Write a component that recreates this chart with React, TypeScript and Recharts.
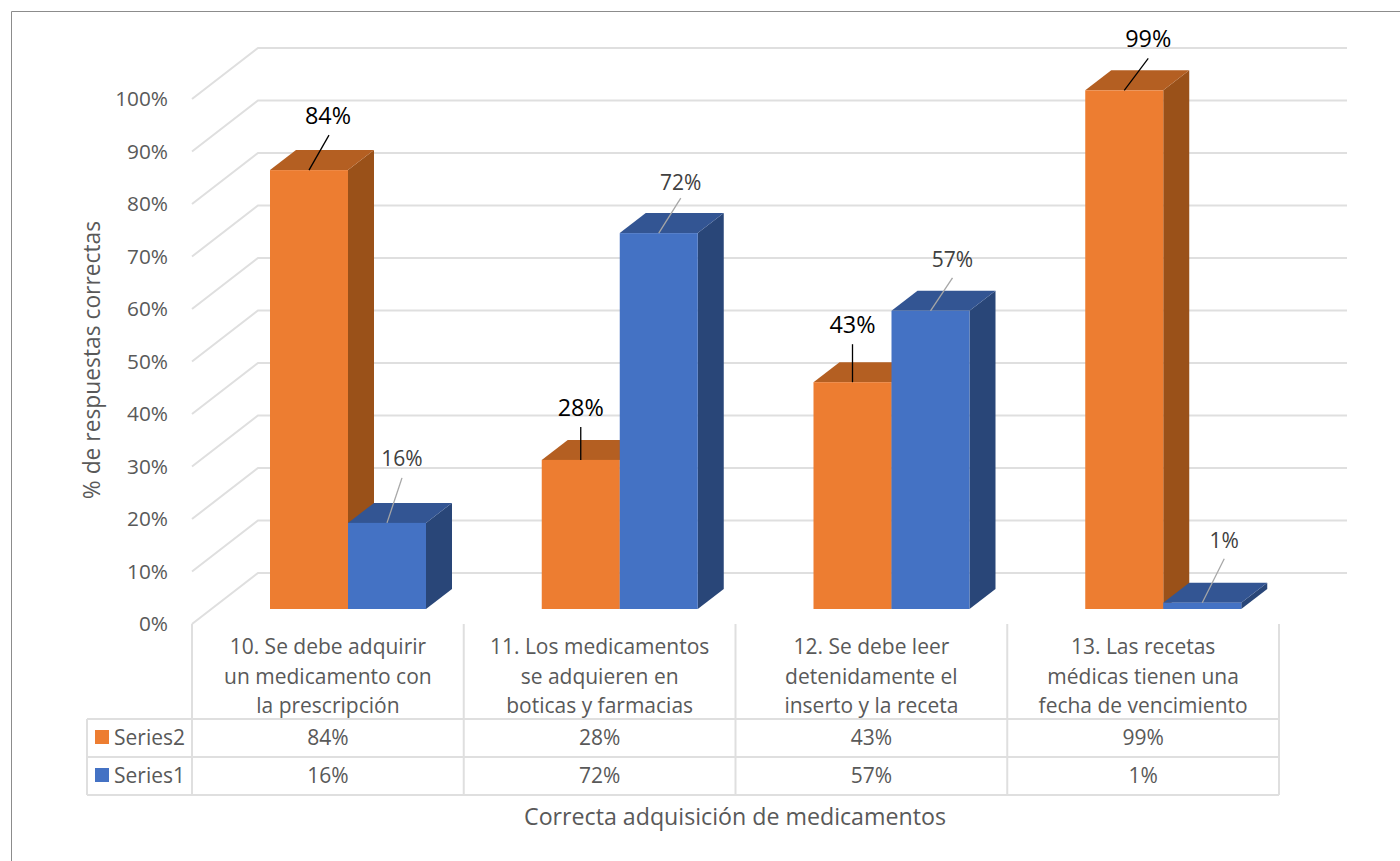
import React from 'react';
import { BarChart, Bar, XAxis, YAxis, CartesianGrid, LabelList, Customized } from 'recharts';

const categoryLines: string[][] = [
  ['10. Se debe adquirir', 'un medicamento con', 'la prescripción'],
  ['11. Los medicamentos', 'se adquieren en', 'boticas y farmacias'],
  ['12. Se debe leer', 'detenidamente el', 'inserto y la receta'],
  ['13. Las recetas', 'médicas tienen una', 'fecha de vencimiento'],
];
const series2Values = [0.836, 0.284, 0.432, 0.988];
const series1Values = [0.164, 0.716, 0.568, 0.012];
const yTicks = [0, 0.1, 0.2, 0.3, 0.4, 0.5, 0.6, 0.7, 0.8, 0.9, 1];
const xTitle = 'Correcta adquisición de medicamentos';
const yTitle = '% de respuestas correctas';

const tableData = categoryLines.map((lines, i) => ({
  name: lines.join(' '),
  series2: series2Values[i],
  series1: series1Values[i],
}));

const FONT = '"Open Sans", sans-serif';
const TEXT = '#595959';
const GRID = '#dfdfdf';
const W = 1400;
const H = 861;
const PLOT_L = 192;
const PLOT_R = 1279;
const PLOT_T = 99;
const PLOT_B = 624;
const DEPTH_X = 26;
const DEPTH_Y = 20;
const SHIFT_X = 20;
const SHIFT_Y = -15;
const BAND = (PLOT_R - PLOT_L) / 4;
const pct = (v: number) => `${Math.round(v * 100)}%`;

const Box3D = (colors: { front: string; side: string; top: string }) => (props: any) => {
  const x = props.x + SHIFT_X;
  const y = props.y + SHIFT_Y;
  const w = props.width;
  const h = props.height;
  return (
    <g>
      <polygon points={`${x + w},${y} ${x + w + DEPTH_X},${y - DEPTH_Y} ${x + w + DEPTH_X},${y + h - DEPTH_Y} ${x + w},${y + h}`} fill={colors.side} />
      <polygon points={`${x},${y} ${x + DEPTH_X},${y - DEPTH_Y} ${x + w + DEPTH_X},${y - DEPTH_Y} ${x + w},${y}`} fill={colors.top} />
      <rect x={x} y={y} width={w} height={h} fill={colors.front} />
    </g>
  );
};

const leaderS2 = [[20, -35, 19, -55], [0, -33, 0, -53], [0, -38, 0, -58], [24, -32, 24, -52]];
const leaderS1 = [[15, -45, 15, -65], [22, -35, 22, -51], [22, -33, 22, -52], [22, -44, 22, -63]];

const Callout = (leaders: number[][], color: string, lineColor: string, size: number) => (props: any) => {
  const { x, y, width, value, index } = props;
  const cx = x + SHIFT_X + width / 2;
  const cy = y + SHIFT_Y;
  const [lx, ly, tx, ty] = leaders[index];
  return (
    <g>
      <line x1={cx} y1={cy} x2={cx + lx} y2={cy + ly} stroke={lineColor} strokeWidth={1.3} />
      <text x={cx + tx} y={cy + ty} textAnchor="middle" dominantBaseline="central" fontFamily={FONT} fontSize={size} fill={color}>
        {pct(value)}
      </text>
    </g>
  );
};

const CategoryTick = (props: any) => {
  const lines = categoryLines[props.payload.index];
  return (
    <g>
      {lines.map((line, i) => (
        <text key={i} x={props.x} y={PLOT_B + 22 + i * 29.5} textAnchor="middle" dominantBaseline="central" fontFamily={FONT} fontSize={21} fill={TEXT}>
          {line}
        </text>
      ))}
    </g>
  );
};

const Frame = () => {
  const rows = [719, 757, 795];
  const cols = [0, 1, 2, 3, 4].map((i) => PLOT_L + i * BAND);
  const tableRows = [
    { name: 'Series2', color: '#ED7D31', values: series2Values, y: 737 },
    { name: 'Series1', color: '#4472C4', values: series1Values, y: 775 },
  ];
  return (
    <g>
      <line x1={11.5} y1={11.5} x2={W} y2={11.5} stroke="#8c8c8c" strokeWidth={1} />
      <line x1={11.5} y1={11.5} x2={11.5} y2={H} stroke="#8c8c8c" strokeWidth={1} />
      {rows.map((y) => (
        <line key={y} x1={87} y1={y} x2={PLOT_R} y2={y} stroke={GRID} strokeWidth={2} />
      ))}
      <line x1={87} y1={719} x2={87} y2={795} stroke={GRID} strokeWidth={2} />
      {cols.map((x) => (
        <line key={x} x1={x} y1={PLOT_B} x2={x} y2={795} stroke={GRID} strokeWidth={2} />
      ))}
      {tableRows.map((r) => (
        <g key={r.name}>
          <rect x={95} y={r.y - 7} width={14} height={14} fill={r.color} />
          <text x={114} y={r.y} dominantBaseline="central" fontFamily={FONT} fontSize={21} fill={TEXT}>{r.name}</text>
          {r.values.map((v, i) => (
            <text key={i} x={PLOT_L + (i + 0.5) * BAND} y={r.y} textAnchor="middle" dominantBaseline="central" fontFamily={FONT} fontSize={21} fill={TEXT}>{pct(v)}</text>
          ))}
        </g>
      ))}
      <text x={735} y={816} textAnchor="middle" dominantBaseline="central" fontFamily={FONT} fontSize={23.2} fill={TEXT}>{xTitle}</text>
      <text x={91} y={360} transform="rotate(-90 91 360)" textAnchor="middle" dominantBaseline="central" fontFamily={FONT} fontSize={22.8} fill={TEXT}>{yTitle}</text>
    </g>
  );
};

const WallLine = (props: any) => {
  const { x1, x2, y1 } = props;
  return (
    <polyline points={`${x1},${y1} ${x1 + 66},${y1 - 51} ${x2 + 68},${y1 - 51}`} fill="none" stroke={GRID} strokeWidth={2} />
  );
};

export default function App() {
  return (
    <div style={{ position: 'absolute', left: 0, top: 0, width: W, height: H, background: '#fff' }}>
      <BarChart
        width={W}
        height={H}
        data={tableData}
        barSize={78}
        barGap={0}
        margin={{ left: PLOT_L - 100, right: W - PLOT_R, top: PLOT_T, bottom: H - PLOT_B - 95 }}
      >
        <Customized component={Frame} />
        <CartesianGrid vertical={false} horizontal={WallLine as any} />
        <XAxis dataKey="name" height={95} interval={0} axisLine={false} tickLine={false} tickSize={0} tick={CategoryTick as any} />
        <YAxis
          width={100}
          type="number"
          domain={[0, 1]}
          ticks={yTicks}
          axisLine={false}
          tickLine={false}
          tickSize={0}
          tickMargin={24}
          tickFormatter={pct}
          tick={{ fontFamily: FONT, fontSize: 20.8, fill: TEXT }}
        />
        <Bar dataKey="series2" isAnimationActive={false} shape={Box3D({ front: '#ED7D31', side: '#9A5119', top: '#B45F22' }) as any}>
          <LabelList dataKey="series2" content={Callout(leaderS2, '#000000', '#000000', 23.4) as any} />
        </Bar>
        <Bar dataKey="series1" isAnimationActive={false} shape={Box3D({ front: '#4472C4', side: '#294678', top: '#335593' }) as any}>
          <LabelList dataKey="series1" content={Callout(leaderS1, '#404040', '#a6a6a6', 21) as any} />
        </Bar>
      </BarChart>
    </div>
  );
}
